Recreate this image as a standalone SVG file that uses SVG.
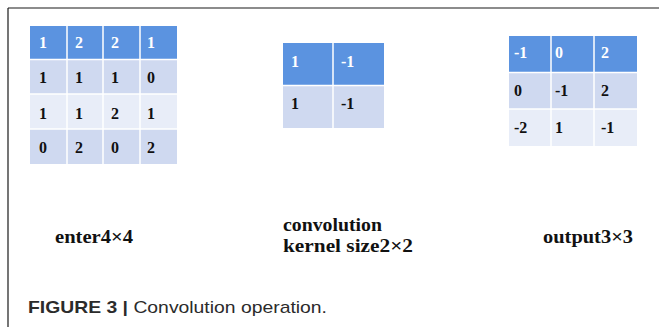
<svg xmlns="http://www.w3.org/2000/svg" width="659" height="327" viewBox="0 0 659 327">
  <style>
    .hd { fill: #5b93e0; }
    .ra { fill: #cfd9f0; }
    .rb { fill: #e8edf8; }
    .sep { stroke: #ffffff; stroke-width: 1.5; }
    .w { fill: #ffffff; }
  </style>

  <rect width="659" height="327" fill="#ffffff"/>
  <!-- figure frame: left and top rules only -->
  <g id="frame" stroke="#1a1a1a" stroke-width="1.2" fill="none">
    <line x1="8" y1="8" x2="659" y2="8"/>
    <line x1="8" y1="8" x2="8" y2="327"/>
  </g>

  <!-- input matrix 4x4 -->
  <g id="input" font-family="Liberation Serif" font-weight="bold" font-size="16" fill="#111111">
    <rect class="hd" x="30" y="26" width="147" height="33"/>
    <rect class="ra" x="30" y="60" width="147" height="34"/>
    <rect class="rb" x="30" y="94" width="147" height="35"/>
    <rect class="ra" x="30" y="129" width="147" height="35"/>
    <line class="sep" x1="30" y1="59.5" x2="177" y2="59.5" stroke-width="2"/>
    <line class="sep" x1="30" y1="94" x2="177" y2="94"/>
    <line class="sep" x1="30" y1="129" x2="177" y2="129"/>
    <line class="sep" x1="67" y1="26" x2="67" y2="164"/>
    <line class="sep" x1="103" y1="26" x2="103" y2="164"/>
    <line class="sep" x1="140" y1="26" x2="140" y2="164"/>
    <text class="w" x="39" y="48">1</text>
    <text class="w" x="75" y="48">2</text>
    <text class="w" x="111" y="48">2</text>
    <text class="w" x="147" y="48">1</text>
    <text x="39" y="83">1</text>
    <text x="75" y="83">1</text>
    <text x="111" y="83">1</text>
    <text x="147" y="83">0</text>
    <text x="39" y="119">1</text>
    <text x="75" y="119">1</text>
    <text x="111" y="119">2</text>
    <text x="147" y="119">1</text>
    <text x="39" y="153">0</text>
    <text x="75" y="153">2</text>
    <text x="111" y="153">0</text>
    <text x="147" y="153">2</text>
  </g>

  <!-- kernel 2x2 -->
  <g id="kernel" font-family="Liberation Serif" font-weight="bold" font-size="16" fill="#111111">
    <rect class="hd" x="283" y="43" width="101" height="42"/>
    <rect class="ra" x="283" y="85" width="101" height="43"/>
    <line class="sep" x1="283" y1="85.5" x2="384" y2="85.5" stroke-width="2"/>
    <line class="sep" x1="333" y1="43" x2="333" y2="128"/>
    <text class="w" x="291" y="67">1</text>
    <text class="w" x="341" y="67">-1</text>
    <text x="291" y="109">1</text>
    <text x="341" y="109">-1</text>
  </g>

  <!-- output matrix 3x3 -->
  <g id="output" font-family="Liberation Serif" font-weight="bold" font-size="16" fill="#111111">
    <rect class="hd" x="509" y="36" width="128" height="36"/>
    <rect class="ra" x="509" y="72" width="128" height="37"/>
    <rect class="rb" x="509" y="109" width="128" height="37"/>
    <line class="sep" x1="509" y1="72.5" x2="637" y2="72.5" stroke-width="2"/>
    <line class="sep" x1="509" y1="109" x2="637" y2="109"/>
    <line class="sep" x1="551" y1="36" x2="551" y2="146"/>
    <line class="sep" x1="594" y1="36" x2="594" y2="146"/>
    <text class="w" x="514" y="58">-1</text>
    <text class="w" x="555" y="58">0</text>
    <text class="w" x="601" y="58">2</text>
    <text x="514" y="96">0</text>
    <text x="555" y="96">-1</text>
    <text x="601" y="96">2</text>
    <text x="514" y="133">-2</text>
    <text x="555" y="133">1</text>
    <text x="601" y="133">-1</text>
  </g>

  <!-- labels under each matrix -->
  <g id="labels" font-family="Liberation Serif" font-weight="bold" font-size="18" fill="#111111">
    <text x="55" y="243" textLength="78" lengthAdjust="spacingAndGlyphs">enter4×4</text>
    <text x="283" y="231" textLength="99" lengthAdjust="spacingAndGlyphs">convolution</text>
    <text x="283" y="252" textLength="130" lengthAdjust="spacingAndGlyphs">kernel size2×2</text>
    <text x="543" y="243" textLength="90" lengthAdjust="spacingAndGlyphs">output3×3</text>
  </g>

  <!-- caption -->
  <g id="caption" font-family="Liberation Sans" font-size="17" fill="#2b2b2b">
    <text x="28" y="313" textLength="299" lengthAdjust="spacingAndGlyphs"><tspan font-weight="bold">FIGURE 3 |</tspan> Convolution operation.</text>
  </g>
</svg>
